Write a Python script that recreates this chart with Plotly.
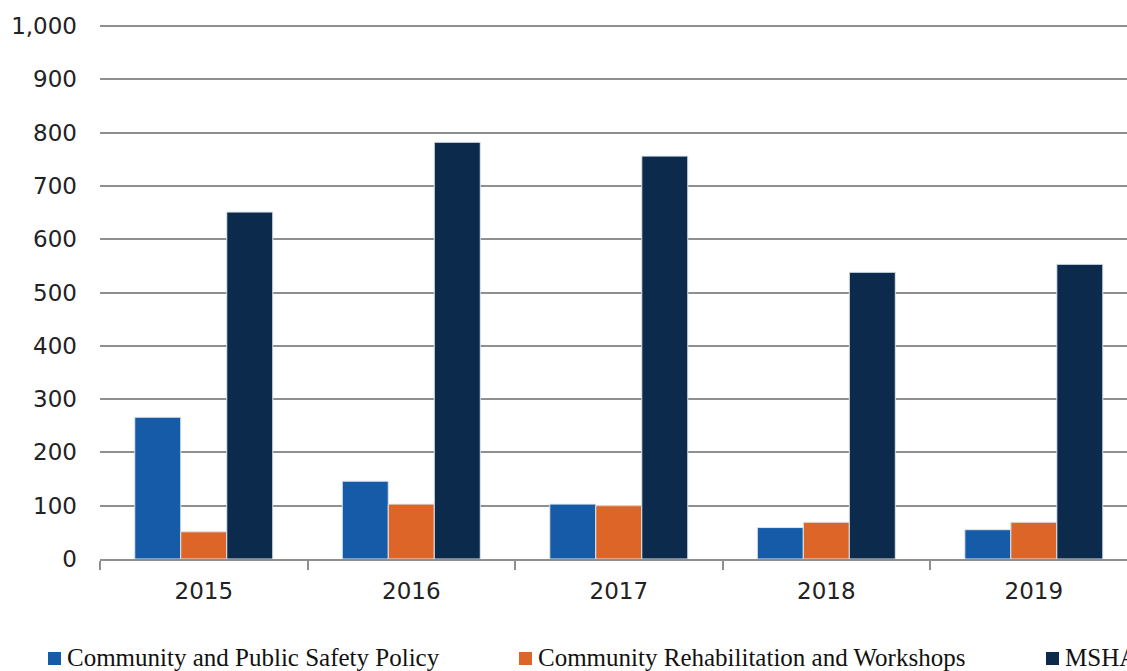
import plotly.graph_objects as go

years = ["2015", "2016", "2017", "2018", "2019"]
series_names = [
    "Community and Public Safety Policy",
    "Community Rehabilitation and Workshops",
    "MSHA",
]
public_safety = [266, 146, 103, 59, 55]
rehab_workshops = [51, 103, 100, 69, 69]
msha = [651, 782, 756, 538, 553]
colors = ["#155BA8", "#DC6527", "#0B2A4C"]

fig = go.Figure()
for name, vals, col in zip(series_names, [public_safety, rehab_workshops, msha], colors):
    fig.add_trace(go.Bar(
        x=years, y=vals, name=name,
        marker=dict(color=col, line=dict(color="#dfe6ee", width=1)),
        showlegend=False,
    ))

# Plot area in pixels; y range runs a hair past 1,000 so the top gridline shows
PLOT_TOP, PLOT_BOTTOM, PLOT_LEFT, PLOT_RIGHT = 25, 559, 100, 1127
def px_x(p):
    return (p - PLOT_LEFT) / (PLOT_RIGHT - PLOT_LEFT)
def px_y(p):
    return (PLOT_BOTTOM - p) / (PLOT_BOTTOM - PLOT_TOP)

# Legend drawn as colored squares + serif labels below the plot
legend_x = [48, 519, 1046]
for name, col, lx in zip(series_names, colors, legend_x):
    fig.add_shape(type="rect", xref="paper", yref="paper",
                  x0=px_x(lx), x1=px_x(lx + 13), y0=px_y(665), y1=px_y(652),
                  fillcolor=col, line=dict(width=0), layer="above")
    fig.add_annotation(text=name, xref="paper", yref="paper",
                       x=px_x(lx + 17), y=px_y(657), xanchor="left", yanchor="middle",
                       showarrow=False,
                       font=dict(family="Liberation Serif", size=25, color="#111111"))

fig.update_layout(
    width=1127, height=671,
    margin=dict(l=PLOT_LEFT, r=0, t=PLOT_TOP, b=671 - PLOT_BOTTOM),
    paper_bgcolor="white", plot_bgcolor="white",
    barmode="group", bargap=0.335, bargroupgap=0,
    font=dict(family="DejaVu Sans", size=23, color="#222222"),
    xaxis=dict(
        type="category", range=[-0.5, 4.449],
        tickson="boundaries", ticks="outside", ticklen=9, tickwidth=2,
        tickcolor="#8f8f8f", showline=True, linecolor="#8f8f8f", linewidth=2,
        showgrid=False, tickfont=dict(size=23), ticklabelstandoff=10,
    ),
    yaxis=dict(
        range=[0, 1002], tickvals=list(range(0, 1001, 100)), tickformat=",",
        showgrid=True, gridcolor="#8f8f8f", gridwidth=2,
        zeroline=False, showline=False, ticks="",
        ticklabelstandoff=22, tickfont=dict(size=23),
    ),
)

fig.write_html("out.html")
